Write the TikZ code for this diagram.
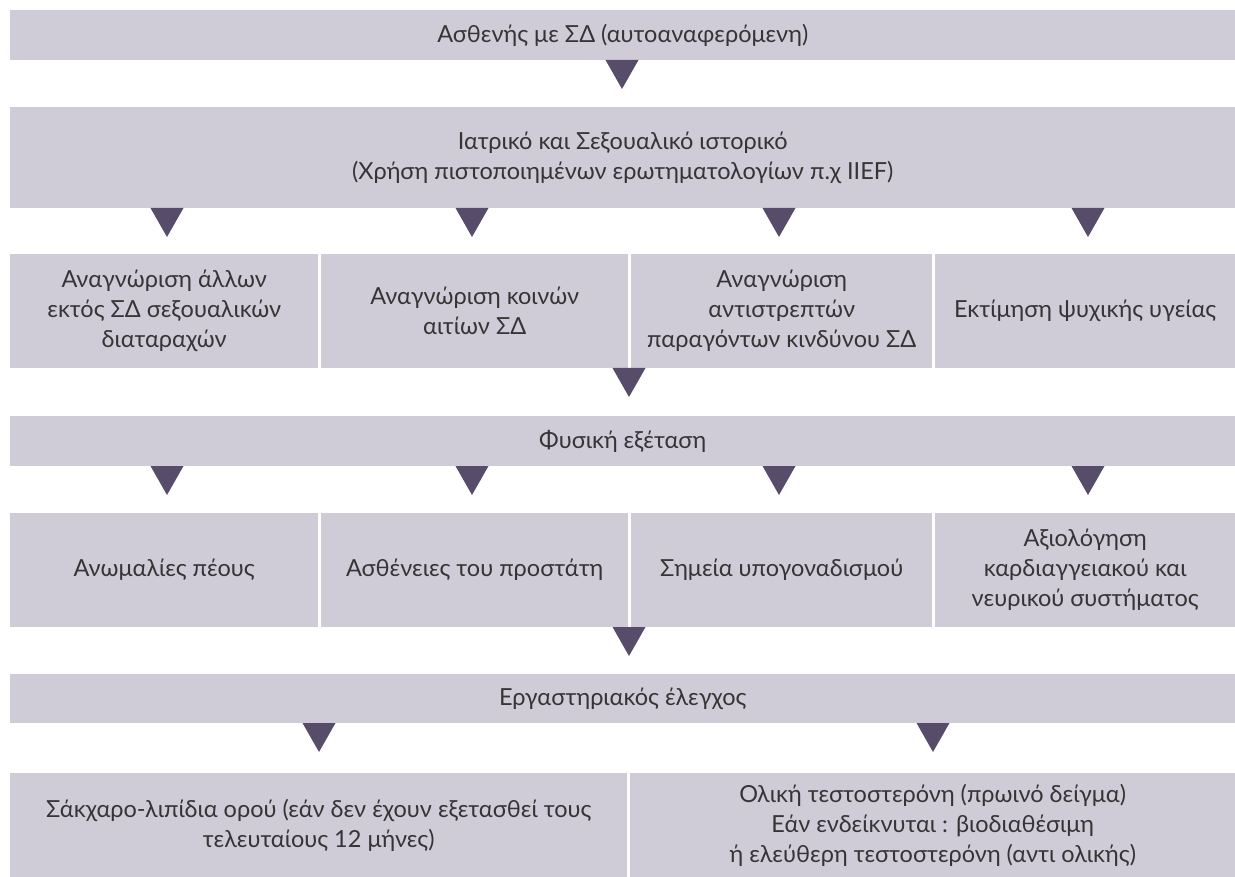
\documentclass[tikz,border=0pt]{standalone}
\usepackage{fontspec}
\setmainfont{Lato}
\definecolor{boxfill}{HTML}{CFCCD7}
\definecolor{tricol}{HTML}{574D6B}
\definecolor{textcol}{HTML}{353535}
\tikzset{
  stepbox/.style={fill=boxfill, draw=none, inner sep=0pt, anchor=north west,
    align=center, text=textcol, font=\fontsize{23.5}{30}\selectfont},
  tri/.style={fill=tricol, draw=none}
}
\newcommand\dtri[2]{\fill[tri] (#1-16.5,#2) -- (#1+16.5,#2) -- (#1,#2+29) -- cycle;}
\begin{document}
\begin{tikzpicture}[x=1pt,y=-1pt]
\useasboundingbox (0,0) rectangle (1235,877);
% row 1
\node[stepbox, minimum width=1225pt, minimum height=50pt] (a) at (10,10) {Ασθενής με ΣΔ (αυτοαναφερόμενη)};
% row 2
\node[stepbox, minimum width=1225pt, minimum height=101pt] (b) at (10,107) {Ιατρικό και Σεξουαλικό ιστορικό\\(Χρήση πιστοποιημένων ερωτηματολογίων π.χ IIEF)};
% row 3
\node[stepbox, minimum width=308pt, minimum height=114pt] (c1) at (10,254) {Αναγνώριση άλλων\\εκτός ΣΔ σεξουαλικών\\διαταραχών};
\node[stepbox, minimum width=307pt, minimum height=114pt] (c2) at (321,254) {Αναγνώριση κοινών\\αιτίων ΣΔ};
\node[stepbox, minimum width=301pt, minimum height=114pt] (c3) at (631,254) {Αναγνώριση\\αντιστρεπτών\\παραγόντων κινδύνου ΣΔ};
\node[stepbox, minimum width=300pt, minimum height=114pt] (c4) at (935,254) {Εκτίμηση ψυχικής υγείας};
% row 4
\node[stepbox, minimum width=1225pt, minimum height=50pt] (d) at (10,416) {Φυσική εξέταση};
% row 5
\node[stepbox, minimum width=308pt, minimum height=114pt] (e1) at (10,513) {Ανωμαλίες πέους};
\node[stepbox, minimum width=307pt, minimum height=114pt] (e2) at (321,513) {Ασθένειες του προστάτη};
\node[stepbox, minimum width=301pt, minimum height=114pt] (e3) at (631,513) {Σημεία υπογοναδισμού};
\node[stepbox, minimum width=300pt, minimum height=114pt] (e4) at (935,513) {Αξιολόγηση\\καρδιαγγειακού και\\νευρικού συστήματος};
% row 6
\node[stepbox, minimum width=1225pt, minimum height=49pt] (f) at (10,674) {Εργαστηριακός έλεγχος};
% row 7
\node[stepbox, minimum width=617pt, minimum height=104pt] (g1) at (10,773) {Σάκχαρο-λιπίδια ορού (εάν δεν έχουν εξετασθεί τους\\τελευταίους 12 μήνες)};
\node[stepbox, minimum width=605pt, minimum height=104pt] (g2) at (630,773) {Ολική τεστοστερόνη (πρωινό δείγμα)\\Εάν ενδείκνυται : βιοδιαθέσιμη\\ή ελεύθερη τεστοστερόνη (αντι ολικής)};
% triangles
\dtri{622}{60}
\dtri{167}{208}\dtri{472}{208}\dtri{779}{208}\dtri{1088}{208}
\dtri{629}{368}
\dtri{167}{466}\dtri{472}{466}\dtri{779}{466}\dtri{1088}{466}
\dtri{629}{627}
\dtri{319}{723}\dtri{933}{723}
\end{tikzpicture}
\end{document}
